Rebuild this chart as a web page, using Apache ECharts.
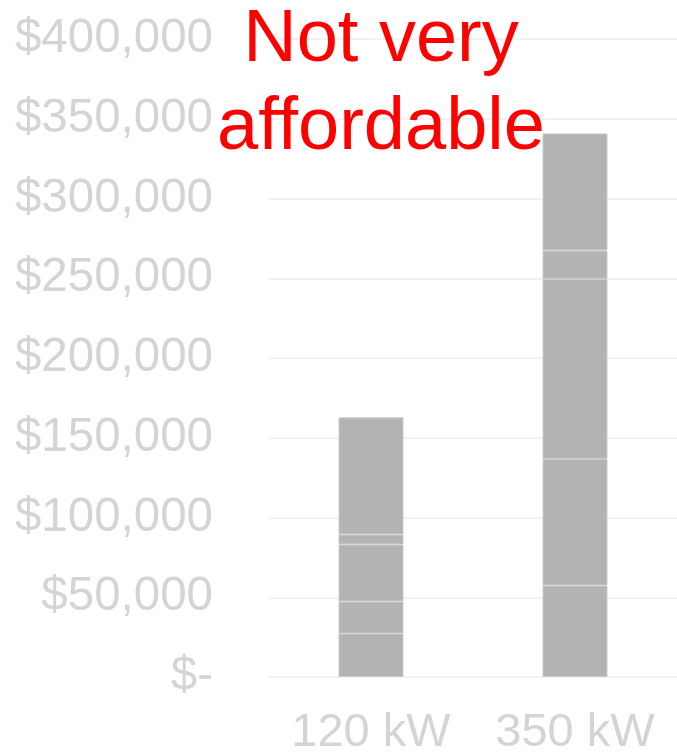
<!DOCTYPE html>
<html>
<head>
<meta charset="utf-8">
<script src="https://cdn.jsdelivr.net/npm/echarts@6/dist/echarts.min.js"></script>
<style>
  html, body { margin: 0; padding: 0; background: #ffffff; }
  #chart { width: 677px; height: 754px; }
</style>
</head>
<body>
<div id="chart"></div>
<script>
// Charger power levels on the category axis
const categories = ['120 kW', '350 kW'];

// Cost components stacked inside each bar (USD)
const componentA = [27200, 57300];
const componentB = [20100, 79400];
const componentC = [35800, 112900];
const componentD = [6300, 17800];
const componentE = [73400, 73400];

const componentNames = ['Component A', 'Component B', 'Component C', 'Component D', 'Component E'];
const componentValues = [componentA, componentB, componentC, componentD, componentE];

// Value axis range and step
const axisMin = 0;
const axisMax = 400000;
const axisStep = 50000;

const titleLines = ['Not very', 'affordable'];

const FONT = '"Liberation Sans", Arial, Helvetica, sans-serif';

function formatDollars(v) {
  if (v === 0) return '$-';
  return '$' + v.toLocaleString('en-US');
}

const chart = echarts.init(document.getElementById('chart'), null, { renderer: 'canvas' });

chart.setOption({
  animation: false,
  backgroundColor: '#ffffff',
  grid: {
    left: 269, right: 0, top: 39, bottom: 77,
    containLabel: false,
    outerBoundsMode: 'none'
  },
  xAxis: {
    type: 'category',
    data: categories,
    axisLine: { show: false },
    axisTick: { show: false },
    axisLabel: {
      interval: 0,
      hideOverlap: false,
      color: '#d4d4d4',
      fontFamily: FONT,
      fontSize: 47,
      margin: 33
    }
  },
  yAxis: {
    type: 'value',
    min: axisMin,
    max: axisMax,
    interval: axisStep,
    axisLine: { show: false },
    axisTick: { show: false },
    splitLine: { lineStyle: { color: '#f2f2f2', width: 2 } },
    axisLabel: {
      color: '#d4d4d4',
      fontFamily: FONT,
      fontSize: 47.5,
      margin: 56,
      formatter: formatDollars
    }
  },
  graphic: [{
    type: 'text',
    x: 381,
    y: 85,
    z: 100,
    style: {
      text: titleLines.join('\n'),
      fill: '#ff0000',
      fontFamily: FONT,
      fontSize: 74,
      lineHeight: 88,
      align: 'center',
      verticalAlign: 'middle'
    }
  }],
  series: componentNames.map((name, i) => ({
    name: name,
    type: 'bar',
    stack: 'cost',
    barWidth: 65,
    data: componentValues[i],
    itemStyle: {
      color: '#b3b3b3',
      borderColor: '#cacaca',
      borderWidth: 1
    }
  }))
});
</script>
</body>
</html>
